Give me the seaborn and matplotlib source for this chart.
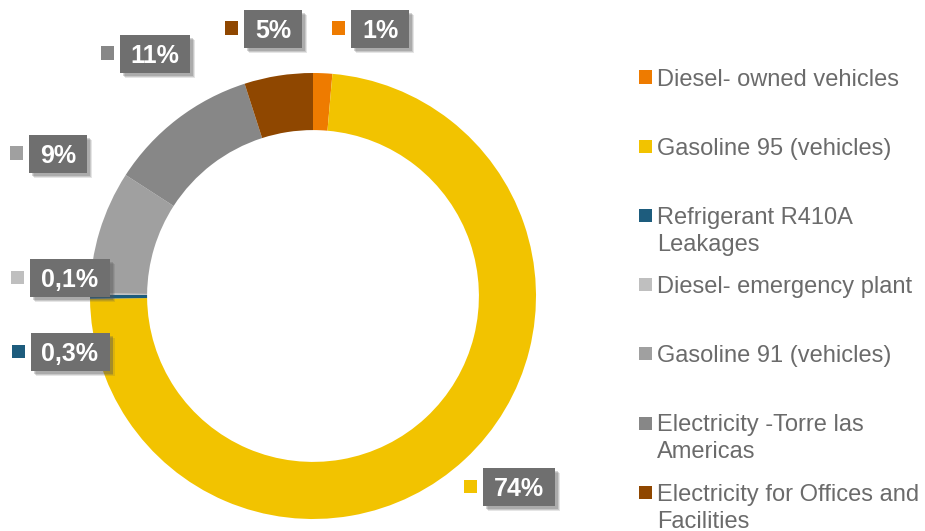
import matplotlib
matplotlib.use("Agg")
import matplotlib.pyplot as plt
import seaborn as sns
from matplotlib.patches import Rectangle

# ---------------- data ----------------
categories = [
    "Diesel- owned vehicles",
    "Gasoline 95 (vehicles)",
    "Refrigerant R410A\nLeakages",
    "Diesel- emergency plant",
    "Gasoline 91 (vehicles)",
    "Electricity -Torre las\nAmericas",
    "Electricity for Offices and\nFacilities",
]
values = [1.4, 74, 0.3, 0.1, 9, 11, 5]
pct_labels = ["1%", "74%", "0,3%", "0,1%", "9%", "11%", "5%"]
colors = ["#EE7B00", "#F2C300", "#1D5C7D", "#BFBFBF", "#A0A0A0", "#878787", "#8F4700"]

# label box centres in pixel coordinates (layout only)
label_pos = [(380, 29), (519, 487), (70, 352), (70, 278), (58, 154), (155, 54), (273, 29)]

sns.set_theme(style="white")
plt.rcParams["font.family"] = ["Liberation Sans", "DejaVu Sans"]

W, H = 925, 531
fig = plt.figure(figsize=(W / 100, H / 100), dpi=100)
fig.patch.set_facecolor("white")


def fx(px):
    return px / W


def fy(py):
    return 1 - py / H


# donut
cx, cy, R = 313, 296, 223
ax = fig.add_axes([fx(cx - R), fy(cy + R), 2 * R / W, 2 * R / H])
palette = sns.color_palette(colors)
ax.pie(values, colors=palette, startangle=90, counterclock=False, radius=1,
       wedgeprops=dict(width=0.256, linewidth=0))
ax.set_xlim(-1, 1)
ax.set_ylim(-1, 1)
ax.set_aspect("equal")
ax.axis("off")

fig.canvas.draw()
renderer = fig.canvas.get_renderer()

# data labels with boxes
box_h = 38
for lab, (px, py), col in zip(pct_labels, label_pos, colors):
    t = fig.text(fx(px), fy(py + 9), lab, ha="center", va="baseline",
                 fontsize=18, fontweight="bold", color="white", zorder=5)
    bb = t.get_window_extent(renderer)
    bw = bb.width + 22
    left = px - bw / 2
    top = py - box_h / 2
    # shadow
    for off, a in [(5, 0.15), (4, 0.2), (3, 0.25)]:
        fig.patches.append(Rectangle((fx(left + off), fy(top + box_h + off)), bw / W, box_h / H,
                                     transform=fig.transFigure, facecolor="#555555",
                                     alpha=a, edgecolor="none", zorder=3))
    fig.patches.append(Rectangle((fx(left), fy(top + box_h)), bw / W, box_h / H,
                                 transform=fig.transFigure, facecolor="#6F6F6F",
                                 edgecolor="none", zorder=4))
    sq = 13
    fig.patches.append(Rectangle((fx(left - 6 - sq), fy(py - 1 + sq / 2)), sq / W, sq / H,
                                 transform=fig.transFigure, facecolor=col,
                                 edgecolor="none", zorder=4))

# legend (manual, marker aligned with first line)
leg_y0, leg_dy, line_dy = 77, 69.2, 27
for i, (cat, col) in enumerate(zip(categories, colors)):
    yc = leg_y0 + i * leg_dy
    fig.patches.append(Rectangle((fx(639), fy(yc + 6.5)), 13 / W, 13 / H,
                                 transform=fig.transFigure, facecolor=col,
                                 edgecolor="none"))
    for j, line in enumerate(cat.split("\n")):
        fig.text(fx(657), fy(yc + j * line_dy + 8.5), line, ha="left", va="baseline",
                 fontsize=17, color="#6B6B6B")

fig.savefig("out.png", dpi=100, facecolor="white")
